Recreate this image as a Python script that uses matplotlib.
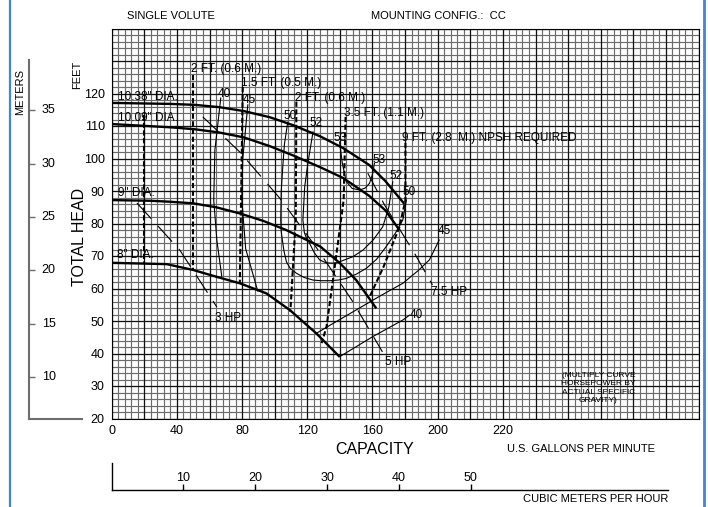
import numpy as np
import matplotlib
matplotlib.use('Agg')
import matplotlib.pyplot as plt
from matplotlib.lines import Line2D

plt.rcParams['font.family'] = ['Liberation Sans', 'DejaVu Sans']

# ------------------------------------------------------------
# head-capacity curves per impeller diameter (GPM, feet)
# ------------------------------------------------------------
q_1038 = [0, 36, 51, 66, 81, 97, 111, 128, 142, 158, 168, 179.6]
h_1038 = [117.1, 116.8, 116.5, 115.8, 114.6, 112.7, 110.3, 106.8, 103.2, 98.0, 93.0, 86.0]

q_1009 = [0, 36, 51, 66, 81, 97, 111, 128, 142, 158, 168, 176.5]
h_1009 = [110.6, 109.6, 109.0, 108.0, 106.5, 103.8, 101.0, 97.3, 94.0, 88.5, 84.0, 78.0]

q_9 = [0, 23.5, 35.7, 50, 64, 78.6, 93, 107, 128, 140, 150, 162.3]
h_9 = [87.2, 87.0, 86.7, 86.2, 85.0, 83.1, 80.8, 78.0, 72.9, 67.8, 62.6, 53.9]

q_8 = [0, 33.7, 50, 64.3, 78.6, 94.9, 109.2, 125.5, 139.8]
h_8 = [67.9, 67.5, 65.7, 63.6, 61.6, 58.5, 53.4, 46.2, 39.0]

dia_labels = ['10.38" DIA.', '10.09" DIA.', '9" DIA.', '8" DIA.']
dia_label_pos = [(3.9, 119.0), (3.9, 112.4), (3.9, 89.4), (3.1, 70.3)]

# ------------------------------------------------------------
# iso-efficiency curves (%)
# ------------------------------------------------------------
eff40_left_q = [66.9, 63.3, 62.6, 64.5, 67.5]
eff40_left_h = [118.6, 102.6, 87.2, 74.9, 63.8]
eff45_left_q = [83.5, 80.4, 79.8, 82.2, 89.6]
eff45_left_h = [116.5, 99.8, 87.5, 72.2, 59.2]
eff50_q = [108.0, 106.0, 105.1, 104.0, 103.7, 104.0, 104.7, 105.7, 107.2, 109.5, 113.3, 118.0,
           123.5, 128.5, 133.7, 139.0, 143.9, 150.0, 156.2, 162.5, 168.4, 174.0, 178.6, 180.8]
eff50_h = [111.2, 104.5, 98.5, 90.0, 81.1, 77.5, 74.9, 71.5, 68.2, 66.2, 64.7, 63.4,
           62.6, 62.4, 62.4, 62.6, 63.1, 64.4, 66.2, 69.0, 72.9, 77.0, 81.1, 87.2]
eff52_q = [123.5, 120.5, 118.4, 117.3, 118.2, 119.5, 121.4, 124.3, 127.6, 131.5, 135.7, 138.8,
           141.8, 148.0, 154.1, 160.5, 166.3, 170.0, 172.4]
eff52_h = [108.2, 99.0, 91.3, 81.1, 77.2, 75.5, 73.9, 71.0, 68.8, 67.9, 67.8, 68.0,
           68.6, 69.8, 71.8, 75.0, 79.0, 85.0, 92.8]
eff53_q = [139.8, 141.5, 143.9, 147.5, 152.0, 155.5, 158.2, 160.0, 161.2]
eff53_h = [105.1, 98.5, 92.9, 90.8, 90.3, 90.9, 92.4, 95.2, 98.5]
eff45_right_q = [125.5, 137.0, 150.0, 165.0, 178.6, 188.0, 194.9, 200.9]
eff45_right_h = [46.2, 49.6, 53.4, 57.8, 61.6, 65.5, 68.8, 74.9]
eff40_right_q = [139.8, 160.2, 178.6, 182.7]
eff40_right_h = [39.0, 45.2, 50.3, 51.8]

eff_labels = ['40', '45', '50', '52', '53', '53', '52', '50', '45', '40']
eff_label_pos = [(68.8, 119.8), (84.3, 118.0), (109.2, 113.1), (125.1, 110.8),
                 (139.8, 106.3), (163.9, 99.5), (174.5, 94.7), (182.7, 89.8),
                 (204.1, 77.7), (186.8, 51.8)]

# ------------------------------------------------------------
# horsepower lines
# ------------------------------------------------------------
hp3_q = [15.5, 41.8, 64.5]
hp3_h = [86.3, 71.8, 54.3]
hp5_q = [55.9, 78.6, 103.1, 125.7, 147.2, 166.1]
hp5_h = [112.8, 102.0, 87.8, 72.5, 56.5, 40.5]
hp75_q = [157.1, 167.4, 185.7, 196.8]
hp75_h = [95.5, 85.7, 70.9, 61.1]

hp_labels = ['3 HP', '5 HP', '7.5 HP']
hp_label_pos = [(71.4, 50.8), (175.5, 37.5), (207.2, 59.0)]

# ------------------------------------------------------------
# NPSH required lines
# ------------------------------------------------------------
npsh_a_q = [19.8, 19.8]
npsh_a_h = [113.4, 67.8]
npsh_2ft_q = [49.8, 49.8]
npsh_2ft_h = [125.7, 65.7]
npsh_15ft_q = [80.4, 78.6]
npsh_15ft_h = [122.0, 61.6]
npsh_2ftb_q = [113.3, 112.9, 109.6]
npsh_2ftb_h = [117.5, 81.1, 52.8]
npsh_35ft_q = [143.5, 142.3, 137.4, 131.8, 128.8]
npsh_35ft_h = [112.8, 87.2, 68.8, 48.2, 43.2]
npsh_9ft_q = [180.2, 180.2, 176.5, 166.7, 158.2]
npsh_9ft_h = [104.8, 87.2, 78.9, 66.6, 57.4]

npsh_labels = ['2 FT. (0.6 M.)', '1.5 FT. (0.5 M.)', '2 FT. (0.6 M.)',
               '3.5 FT. (1.1 M.)', '9 FT. (2.8  M.) NPSH REQUIRED']
npsh_label_pos = [(48.4, 127.5), (79.6, 123.2), (112.2, 118.6), (142.3, 114.0), (178.4, 106.2)]

# axis ticks
x_ticks = [0, 40, 80, 120, 160, 200, 240]
x_tick_labels = ['0', '40', '80', '120', '160', '200', '220']
y_ticks = [20, 30, 40, 50, 60, 70, 80, 90, 100, 110, 120]
meter_ticks = [10, 15, 20, 25, 30, 35]
m3h_ticks = [10, 20, 30, 40, 50]

FT_PER_M = 3.28084
GPM_PER_M3H = 4.40287

# ============================================================
W, H = 708, 507
fig = plt.figure(figsize=(W / 100, H / 100), dpi=100)
fig.patch.set_facecolor('white')

x0, x1 = 111.7, 698.5
y_top, y_bot = 28.5, 418.5
ax = fig.add_axes([x0 / W, 1 - y_bot / H, (x1 - x0) / W, (y_bot - y_top) / H])
ax.set_xlim(0, 360)
ax.set_ylim(20, 140)

# graph paper grid
ax.vlines(np.arange(0, 361, 4), 20, 140, color='#6c6c6c', lw=0.85, zorder=0)
ax.hlines(np.arange(20, 141, 2), 0, 360, color='#6c6c6c', lw=0.85, zorder=0)
ax.vlines(np.arange(0, 361, 20), 20, 140, color='#111111', lw=0.85, zorder=0)
ax.hlines(np.arange(20, 141, 10), 0, 360, color='#111111', lw=0.85, zorder=0)

for s in ax.spines.values():
    s.set_color('black')
    s.set_linewidth(0.8)

ax.set_xticks(x_ticks)
ax.set_xticklabels(x_tick_labels)
ax.set_yticks(y_ticks)
ax.tick_params(length=0, labelsize=9, pad=5)

# head curves
for q, h in [(q_1038, h_1038), (q_1009, h_1009), (q_9, h_9), (q_8, h_8)]:
    ax.plot(q, h, color='black', lw=1.7, solid_capstyle='butt', solid_joinstyle='round', zorder=4)
for lab, (px, py) in zip(dia_labels, dia_label_pos):
    ax.text(px, py, lab, fontsize=8.5, ha='left', va='center', zorder=5)

# efficiency curves
for q, h in [(eff40_left_q, eff40_left_h), (eff45_left_q, eff45_left_h),
             (eff50_q, eff50_h), (eff52_q, eff52_h), (eff53_q, eff53_h),
             (eff45_right_q, eff45_right_h), (eff40_right_q, eff40_right_h)]:
    ax.plot(q, h, color='black', lw=0.8, solid_joinstyle='round', zorder=3)
for lab, (px, py) in zip(eff_labels, eff_label_pos):
    ax.text(px, py, lab, fontsize=8.5, ha='center', va='center', zorder=5)

# horsepower lines
for q, h in [(hp3_q, hp3_h), (hp5_q, hp5_h), (hp75_q, hp75_h)]:
    ax.plot(q, h, color='black', lw=0.8, linestyle=(0, (19, 9)), zorder=3)
for lab, (px, py) in zip(hp_labels, hp_label_pos):
    ax.text(px, py, lab, fontsize=8.5, ha='center', va='center', zorder=5)

# NPSH lines
for q, h in [(npsh_a_q, npsh_a_h), (npsh_2ft_q, npsh_2ft_h), (npsh_15ft_q, npsh_15ft_h),
             (npsh_2ftb_q, npsh_2ftb_h), (npsh_35ft_q, npsh_35ft_h), (npsh_9ft_q, npsh_9ft_h)]:
    ax.plot(q, h, color='black', lw=1.5, linestyle=(0, (2.5, 1.2)), zorder=3)
for lab, (px, py) in zip(npsh_labels, npsh_label_pos):
    ax.text(px, py, lab, fontsize=8.5, ha='left', va='center', zorder=5)

ax.text(298.5, 29.4, '(MULTIPLY CURVE\nHORSEPOWER BY\nACTUAL SPECIFIC\nGRAVITY)',
        fontsize=6, ha='center', va='center', linespacing=1.25, zorder=5)

# ------------------------------------------------------------
# meters scale on the far left
# ------------------------------------------------------------
xm0, xm1 = 29, 82
axm = fig.add_axes([xm0 / W, 1 - y_bot / H, (xm1 - xm0) / W, (y_bot - y_top) / H])
axm.set_xlim(0, 1)
axm.set_ylim(20, 140)
axm.patch.set_alpha(0)
for k in ['top', 'right']:
    axm.spines[k].set_visible(False)
axm.spines['left'].set_bounds(20, 130.3)
for k in ['left', 'bottom']:
    axm.spines[k].set_color('#6e6e6e')
    axm.spines[k].set_linewidth(1.5)
axm.set_xticks([])
axm.set_yticks([m * FT_PER_M for m in meter_ticks])
axm.tick_params(axis='y', direction='in', length=4.5, width=1, color='#6e6e6e', labelleft=False)
for m in meter_ticks:
    axm.text(0.24, m * FT_PER_M, str(m), fontsize=9, ha='left', va='center')

# ------------------------------------------------------------
# cubic meters per hour scale at the bottom
# ------------------------------------------------------------
yc_top, yc_bot = 463, 490
axc = fig.add_axes([x0 / W, 1 - yc_bot / H, (x1 - x0) / W, (yc_bot - yc_top) / H])
axc.set_xlim(0, 360 / GPM_PER_M3H)
axc.set_ylim(0, 1)
axc.patch.set_alpha(0)
for k in ['top', 'right']:
    axc.spines[k].set_visible(False)
axc.spines['bottom'].set_bounds(0, (668 - x0) / ((x1 - x0) / 360) / GPM_PER_M3H)
for k in ['left', 'bottom']:
    axc.spines[k].set_color('black')
    axc.spines[k].set_linewidth(1.0)
axc.set_yticks([])
axc.set_xticks(m3h_ticks)
axc.tick_params(axis='x', direction='in', length=4, width=1, labelbottom=False)
for v in m3h_ticks:
    axc.text(v, 0.45, str(v), fontsize=9, ha='center', va='center')

# ------------------------------------------------------------
# texts around the chart
# ------------------------------------------------------------
fig.text(127 / W, 1 - 16 / H, 'SINGLE VOLUTE', fontsize=8, ha='left', va='center')
fig.text(371 / W, 1 - 16 / H, 'MOUNTING CONFIG.:  CC', fontsize=8, ha='left', va='center')
fig.text(20 / W, 1 - 92 / H, 'METERS', fontsize=8, rotation=90, ha='center', va='center')
fig.text(77 / W, 1 - 74.5 / H, 'FEET', fontsize=8, rotation=90, ha='center', va='center')
fig.text(79 / W, 1 - 237 / H, 'TOTAL HEAD', fontsize=11.5, rotation=90, ha='center', va='center')
fig.text(375 / W, 1 - 450 / H, 'CAPACITY', fontsize=11.5, ha='center', va='center')
fig.text(507 / W, 1 - 449 / H, 'U.S. GALLONS PER MINUTE', fontsize=8, ha='left', va='center')
fig.text(668 / W, 1 - 498.5 / H, 'CUBIC METERS PER HOUR', fontsize=8, ha='right', va='center')

# blue page frame
fig.add_artist(Line2D([10 / W, 10 / W], [0, 1], transform=fig.transFigure,
                      color='#3f87cf', lw=1.6))
fig.add_artist(Line2D([703.5 / W, 703.5 / W], [0, 1], transform=fig.transFigure,
                      color='#3f87cf', lw=2.0))

fig.savefig('out.png', dpi=100, facecolor='white')
